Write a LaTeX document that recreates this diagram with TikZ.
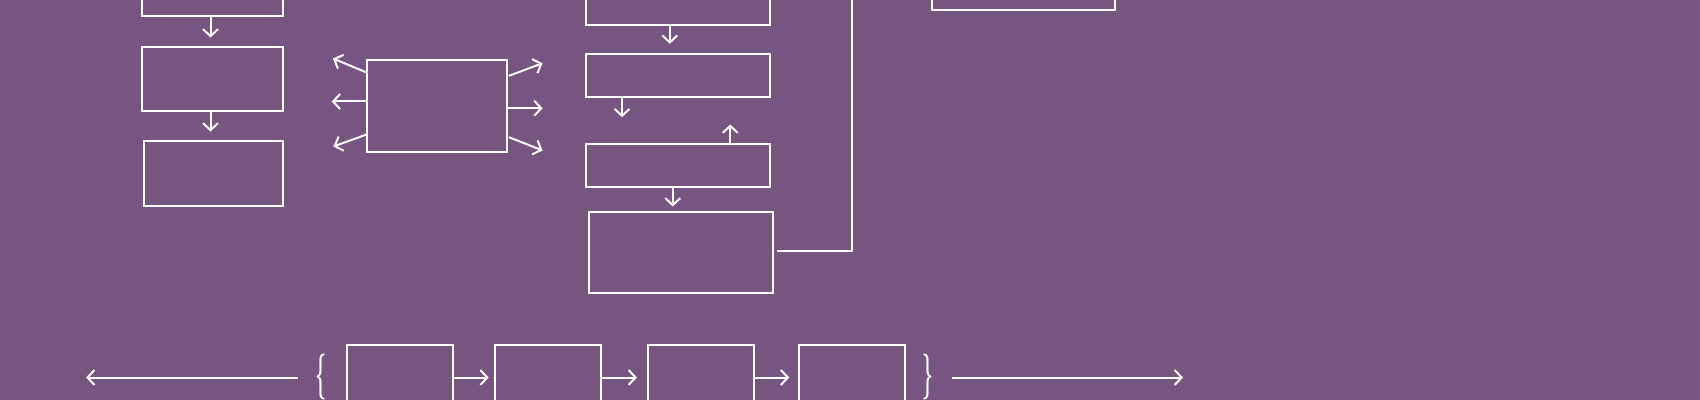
\documentclass[tikz,border=0pt]{standalone}
\usetikzlibrary{arrows.meta,calc}
\definecolor{bg}{RGB}{119,85,129}
\begin{document}
\begin{tikzpicture}[x=0.5pt,y=-0.5pt,
  box/.style={draw=white,line width=1pt,inner sep=0pt,outer sep=0pt},
  arr/.style={draw=white,line width=1pt,-{Straight Barb[length=3.5pt,width=7.5pt]}},
  ln/.style={draw=white,line width=1pt},
  brace/.style={text=white,inner sep=0pt}]
\fill[bg] (0,0) rectangle (1700,400);
\useasboundingbox (0,0) rectangle (1700,400);
\clip (0,0) rectangle (1700,400);
% left column
\node[box,minimum width=70.5pt,minimum height=32.5pt] (A) at (212.5,-16) {};
\node[box,minimum width=70.5pt,minimum height=32.25pt] (B) at (212.5,79.25) {};
\node[box,minimum width=69.5pt,minimum height=32.5pt] (C) at (213.5,173.5) {};
\draw[arr,shorten >=4.75pt] ($(A.south)+(-2,0)$) -- ($(B.north)+(-2,0)$);
\draw[arr,shorten >=4.75pt] ($(B.south)+(-2,0)$) -- ($(C.north)+(-3,0)$);
% central box with six arrows
\node[box,minimum width=70.4pt,minimum height=46.2pt] (D) at (437,106) {};
\coordinate (l1) at (333,58.5);
\coordinate (l2) at (331.7,101.5);
\coordinate (l3) at (333.3,146.5);
\coordinate (r1) at (542.6,63.2);
\coordinate (r2) at (542.6,108.2);
\coordinate (r3) at (542.6,150.5);
\draw[arr] ($(D.north west)+(0,12.7)$) -- (l1);
\draw[arr] (D.west |- l2) -- (l2);
\draw[arr] ($(D.south west)+(0,-17.7)$) -- (l3);
\draw[arr] ($(D.north east)+(1.6,16)$) -- (r1);
\draw[arr] (D.east |- r2) -- (r2);
\draw[arr] ($(D.south east)+(1.6,-15)$) -- (r3);
% middle column
\node[box,minimum width=92pt,minimum height=22pt] (E) at (678,3.5) {};
\node[box,minimum width=92pt,minimum height=21.85pt] (F) at (678,75.65) {};
\node[box,minimum width=92pt,minimum height=21.7pt] (G) at (678,165.5) {};
\node[box,minimum width=91.65pt,minimum height=40.15pt] (H) at (681,252.65) {};
\draw[arr,shorten >=5pt] ($(E.south)+(-8.2,0)$) -- ($(F.north)+(-8.2,0)$);
\coordinate (f1) at (622,117.2);
\draw[arr] (F.south -| f1) -- (f1);
\coordinate (g1) at (730.2,124.5);
\draw[arr] (G.north -| g1) -- (g1);
\draw[arr,shorten >=3pt] ($(G.south)+(-5.2,0)$) -- ($(H.north)+(-8.2,0)$);
\coordinate (h1) at (851.6,-10);
\draw[ln] ($(H.east)+(4,-1.5)$) -| (h1);
% top right box
\node[box,minimum width=91.65pt,minimum height=22pt] (I) at (1023.65,-12.2) {};
% bottom row
\coordinate (row) at (0,377.5);
\node[box,minimum width=53pt,minimum height=40pt] (J) at (400,385) {};
\node[box,minimum width=53pt,minimum height=40pt] (K) at (548.3,385) {};
\node[box,minimum width=53pt,minimum height=40pt] (L) at (700.7,385) {};
\node[box,minimum width=53pt,minimum height=40pt] (M) at (852.25,385) {};
\draw[arr,shorten >=3.3pt] (J.east |- row) -- (K.west |- row);
\draw[arr,shorten >=5.4pt] (K.east |- row) -- (L.west |- row);
\draw[arr,shorten >=5pt] (L.east |- row) -- (M.west |- row);
\node[brace] (lb) at (321,376.5) {\scalebox{0.95}[2.3]{\bfseries\{}};
\node[brace] (rb) at (928,376.5) {\scalebox{0.95}[2.3]{\bfseries\}}};
\coordinate (la) at (297.7,377.5);
\coordinate (lt) at (86.1,377.5);
\coordinate (ra) at (952,377.5);
\coordinate (rt) at (1183,377.5);
\draw[arr] (la) -- (lt);
\draw[arr] (ra) -- (rt);
\end{tikzpicture}
\end{document}
